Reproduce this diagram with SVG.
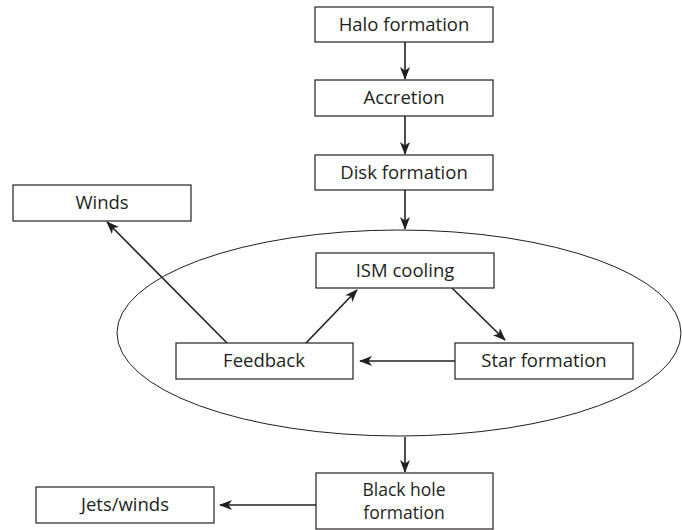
<svg xmlns="http://www.w3.org/2000/svg" width="682" height="530" viewBox="0 0 682 530">
<style>
.box{fill:#fff;stroke:#231f20;stroke-width:1.2}
.t{font-family:"Open Sans","Liberation Sans",Arial,sans-serif;font-size:18.5px;fill:#231f20;text-anchor:middle}
.t2{font-size:17.5px}
.c{stroke:#231f20;stroke-width:1.6;fill:none;marker-end:url(#ah)}
</style>
<defs>
<marker id="ah" viewBox="0 0 13 10" refX="12" refY="5" markerWidth="13" markerHeight="10" markerUnits="userSpaceOnUse" orient="auto">
<path d="M0,0 L13,5 L0,10 L3.5,5 Z" fill="#231f20"/>
</marker>
</defs>
<rect width="682" height="530" fill="#fff"/>
<ellipse id="ellipse" cx="399" cy="333" rx="282" ry="103" fill="none" stroke="#231f20" stroke-width="1"/>
<g id="connectors">
<line class="c" x1="405" y1="42" x2="405" y2="79"/>
<line class="c" x1="405" y1="116" x2="405" y2="154"/>
<line class="c" x1="405" y1="190" x2="405" y2="229"/>
<line class="c" x1="405" y1="437" x2="405" y2="472"/>
<line class="c" x1="227" y1="343" x2="107" y2="222"/>
<line class="c" x1="306" y1="343" x2="357" y2="290"/>
<line class="c" x1="452" y1="288" x2="505" y2="340"/>
<line class="c" x1="455" y1="361" x2="360" y2="361"/>
<line class="c" x1="316" y1="505" x2="220" y2="505"/>
</g>
<g id="halo"><rect class="box" x="315" y="7" width="178" height="35"/><text class="t" x="404" y="31">Halo formation</text></g>
<g id="accretion"><rect class="box" x="315" y="80" width="178" height="36"/><text class="t" x="404" y="104">Accretion</text></g>
<g id="disk"><rect class="box" x="315" y="155" width="178" height="35"/><text class="t" x="404" y="179">Disk formation</text></g>
<g id="winds"><rect class="box" x="13" y="185" width="178" height="36"/><text class="t" x="102" y="209">Winds</text></g>
<g id="ism"><rect class="box" x="316" y="253" width="178" height="35"/><text class="t" x="405" y="277">ISM cooling</text></g>
<g id="feedback"><rect class="box" x="176" y="343" width="177" height="36"/><text class="t" x="264" y="367">Feedback</text></g>
<g id="star"><rect class="box" x="455" y="343" width="178" height="36"/><text class="t" x="544" y="367">Star formation</text></g>
<g id="blackhole"><rect class="box" x="316" y="473" width="177" height="56"/><text class="t t2" x="404" y="496">Black hole</text><text class="t t2" x="404" y="519">formation</text></g>
<g id="jets"><rect class="box" x="36" y="487" width="178" height="36"/><text class="t" x="125" y="511">Jets/winds</text></g>
</svg>
